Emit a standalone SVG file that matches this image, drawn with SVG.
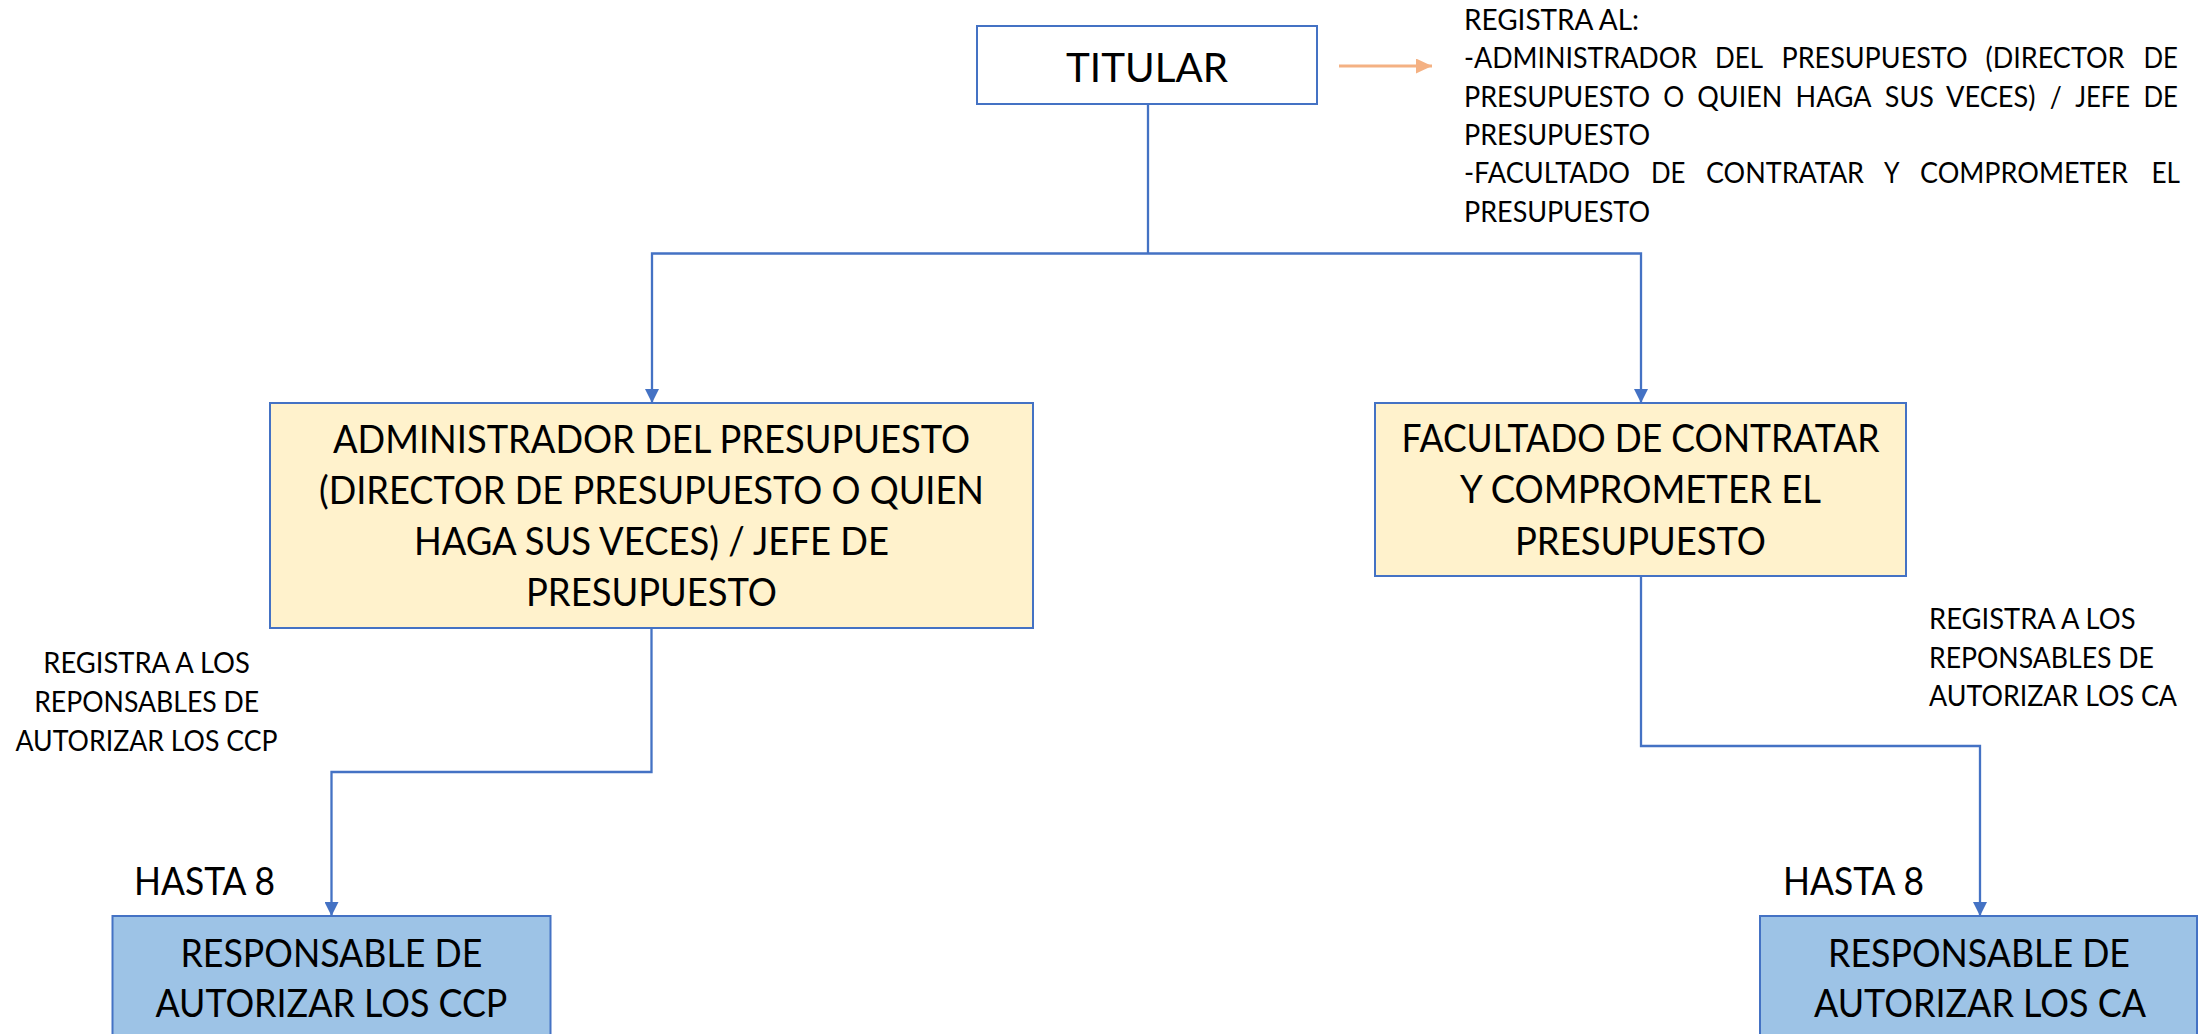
<svg xmlns="http://www.w3.org/2000/svg" width="2198" height="1034" viewBox="0 0 2198 1034">
<style>
text{font-family:Lato,"Open Sans","Liberation Sans",sans-serif;fill:#000}
.s{font-size:28.3px}
.m{font-size:38.2px}
.ttl{font-size:40px}
.box{stroke:#4472C4;stroke-width:2}
.y{fill:#FFF2CC}
.b{fill:#9DC3E6}
.w{fill:#FFFFFF}
.con{fill:none;stroke:#4472C4;stroke-width:2.3}
.or{fill:none;stroke:#F4B183;stroke-width:3}
</style>
<defs>
<marker id="ab" markerUnits="userSpaceOnUse" markerWidth="14" markerHeight="14" refX="14" refY="7" orient="auto"><path d="M0,0 L14,7 L0,14 z" fill="#4472C4"/></marker>
<marker id="ao" markerUnits="userSpaceOnUse" markerWidth="16" markerHeight="15" refX="16" refY="7.5" orient="auto"><path d="M0,0 L16,7.5 L0,15 z" fill="#F4B183"/></marker>
</defs>
<rect width="2198" height="1034" fill="#FFFFFF"/>
<g id="connectors">
<path class="con" d="M1148,104 V253.5"/>
<path class="con" d="M1148,253.5 H652 V403" marker-end="url(#ab)"/>
<path class="con" d="M1148,253.5 H1641 V403" marker-end="url(#ab)"/>
<path class="con" d="M651.5,628 V772 H331.5 V916" marker-end="url(#ab)"/>
<path class="con" d="M1641,576 V746 H1980 V916" marker-end="url(#ab)"/>
<path class="or" d="M1339,66 H1432" marker-end="url(#ao)"/>
</g>
<g id="titular">
<rect class="box w" x="977" y="26" width="340" height="78"/>
<text class="ttl" x="1066" y="81.5" textLength="162" lengthAdjust="spacingAndGlyphs">TITULAR</text>
</g>
<g id="registra-al" class="s">
<text x="1464" y="30" textLength="175" lengthAdjust="spacingAndGlyphs">REGISTRA AL:</text>
<text x="1464" y="68.3" textLength="233" lengthAdjust="spacingAndGlyphs">-ADMINISTRADOR</text>
<text x="1715" y="68.3" textLength="48" lengthAdjust="spacingAndGlyphs">DEL</text>
<text x="1781.5" y="68.3" textLength="186" lengthAdjust="spacingAndGlyphs">PRESUPUESTO</text>
<text x="1985.5" y="68.3" textLength="139" lengthAdjust="spacingAndGlyphs">(DIRECTOR</text>
<text x="2143.5" y="68.3" textLength="34.5" lengthAdjust="spacingAndGlyphs">DE</text>
<text x="1464" y="106.6" textLength="186" lengthAdjust="spacingAndGlyphs">PRESUPUESTO</text>
<text x="1663.2" y="106.6" textLength="21" lengthAdjust="spacingAndGlyphs">O</text>
<text x="1697.3" y="106.6" textLength="85" lengthAdjust="spacingAndGlyphs">QUIEN</text>
<text x="1795.6" y="106.6" textLength="76" lengthAdjust="spacingAndGlyphs">HAGA</text>
<text x="1884.8" y="106.6" textLength="49" lengthAdjust="spacingAndGlyphs">SUS</text>
<text x="1946" y="106.6" textLength="89.5" lengthAdjust="spacingAndGlyphs">VECES)</text>
<text x="2049.8" y="106.6" textLength="12" lengthAdjust="spacingAndGlyphs">/</text>
<text x="2075.2" y="106.6" textLength="55" lengthAdjust="spacingAndGlyphs">JEFE</text>
<text x="2143.5" y="106.6" textLength="34.5" lengthAdjust="spacingAndGlyphs">DE</text>
<text x="1464" y="144.9" textLength="186" lengthAdjust="spacingAndGlyphs">PRESUPUESTO</text>
<text x="1464" y="183.2" textLength="166" lengthAdjust="spacingAndGlyphs">-FACULTADO</text>
<text x="1651" y="183.2" textLength="34.5" lengthAdjust="spacingAndGlyphs">DE</text>
<text x="1706" y="183.2" textLength="158" lengthAdjust="spacingAndGlyphs">CONTRATAR</text>
<text x="1884" y="183.2" textLength="15.5" lengthAdjust="spacingAndGlyphs">Y</text>
<text x="1920" y="183.2" textLength="208" lengthAdjust="spacingAndGlyphs">COMPROMETER</text>
<text x="2151.5" y="183.2" textLength="28.5" lengthAdjust="spacingAndGlyphs">EL</text>
<text x="1464" y="221.5" textLength="186" lengthAdjust="spacingAndGlyphs">PRESUPUESTO</text>
</g>
<g id="administrador">
<rect class="box y" x="270" y="403" width="763" height="225"/>
<g class="m">
<text x="333" y="452.5" textLength="637" lengthAdjust="spacingAndGlyphs">ADMINISTRADOR DEL PRESUPUESTO</text>
<text x="319" y="503.5" textLength="665" lengthAdjust="spacingAndGlyphs">(DIRECTOR DE PRESUPUESTO O QUIEN</text>
<text x="414" y="554.5" textLength="475" lengthAdjust="spacingAndGlyphs">HAGA SUS VECES) / JEFE DE</text>
<text x="526" y="605.5" textLength="251" lengthAdjust="spacingAndGlyphs">PRESUPUESTO</text>
</g>
</g>
<g id="facultado">
<rect class="box y" x="1375" y="403" width="531" height="173"/>
<g class="m">
<text x="1401.5" y="452" textLength="478" lengthAdjust="spacingAndGlyphs">FACULTADO DE CONTRATAR</text>
<text x="1460" y="503" textLength="361" lengthAdjust="spacingAndGlyphs">Y COMPROMETER EL</text>
<text x="1515" y="554.5" textLength="251" lengthAdjust="spacingAndGlyphs">PRESUPUESTO</text>
</g>
</g>
<g id="label-ccp" class="s">
<text x="43.3" y="673.3" textLength="206.5" lengthAdjust="spacingAndGlyphs">REGISTRA A LOS</text>
<text x="34.2" y="712.3" textLength="225" lengthAdjust="spacingAndGlyphs">REPONSABLES DE</text>
<text x="15.5" y="751" textLength="262" lengthAdjust="spacingAndGlyphs">AUTORIZAR LOS CCP</text>
</g>
<g id="label-ca" class="s">
<text x="1929" y="629.3" textLength="206.5" lengthAdjust="spacingAndGlyphs">REGISTRA A LOS</text>
<text x="1929" y="667.5" textLength="225" lengthAdjust="spacingAndGlyphs">REPONSABLES DE</text>
<text x="1929" y="706" textLength="248" lengthAdjust="spacingAndGlyphs">AUTORIZAR LOS CA</text>
</g>
<g id="responsable-ccp">
<text class="m" x="134" y="895" textLength="141" lengthAdjust="spacingAndGlyphs">HASTA 8</text>
<rect class="box b" x="112.5" y="916" width="438" height="130"/>
<g class="m">
<text x="180.4" y="966.5" textLength="302" lengthAdjust="spacingAndGlyphs">RESPONSABLE DE</text>
<text x="155.4" y="1016.5" textLength="352" lengthAdjust="spacingAndGlyphs">AUTORIZAR LOS CCP</text>
</g>
</g>
<g id="responsable-ca">
<text class="m" x="1783" y="895" textLength="141" lengthAdjust="spacingAndGlyphs">HASTA 8</text>
<rect class="box b" x="1760" y="916" width="437" height="130"/>
<g class="m">
<text x="1828" y="966.5" textLength="302" lengthAdjust="spacingAndGlyphs">RESPONSABLE DE</text>
<text x="1814" y="1016.5" textLength="332" lengthAdjust="spacingAndGlyphs">AUTORIZAR LOS CA</text>
</g>
</g>
</svg>
